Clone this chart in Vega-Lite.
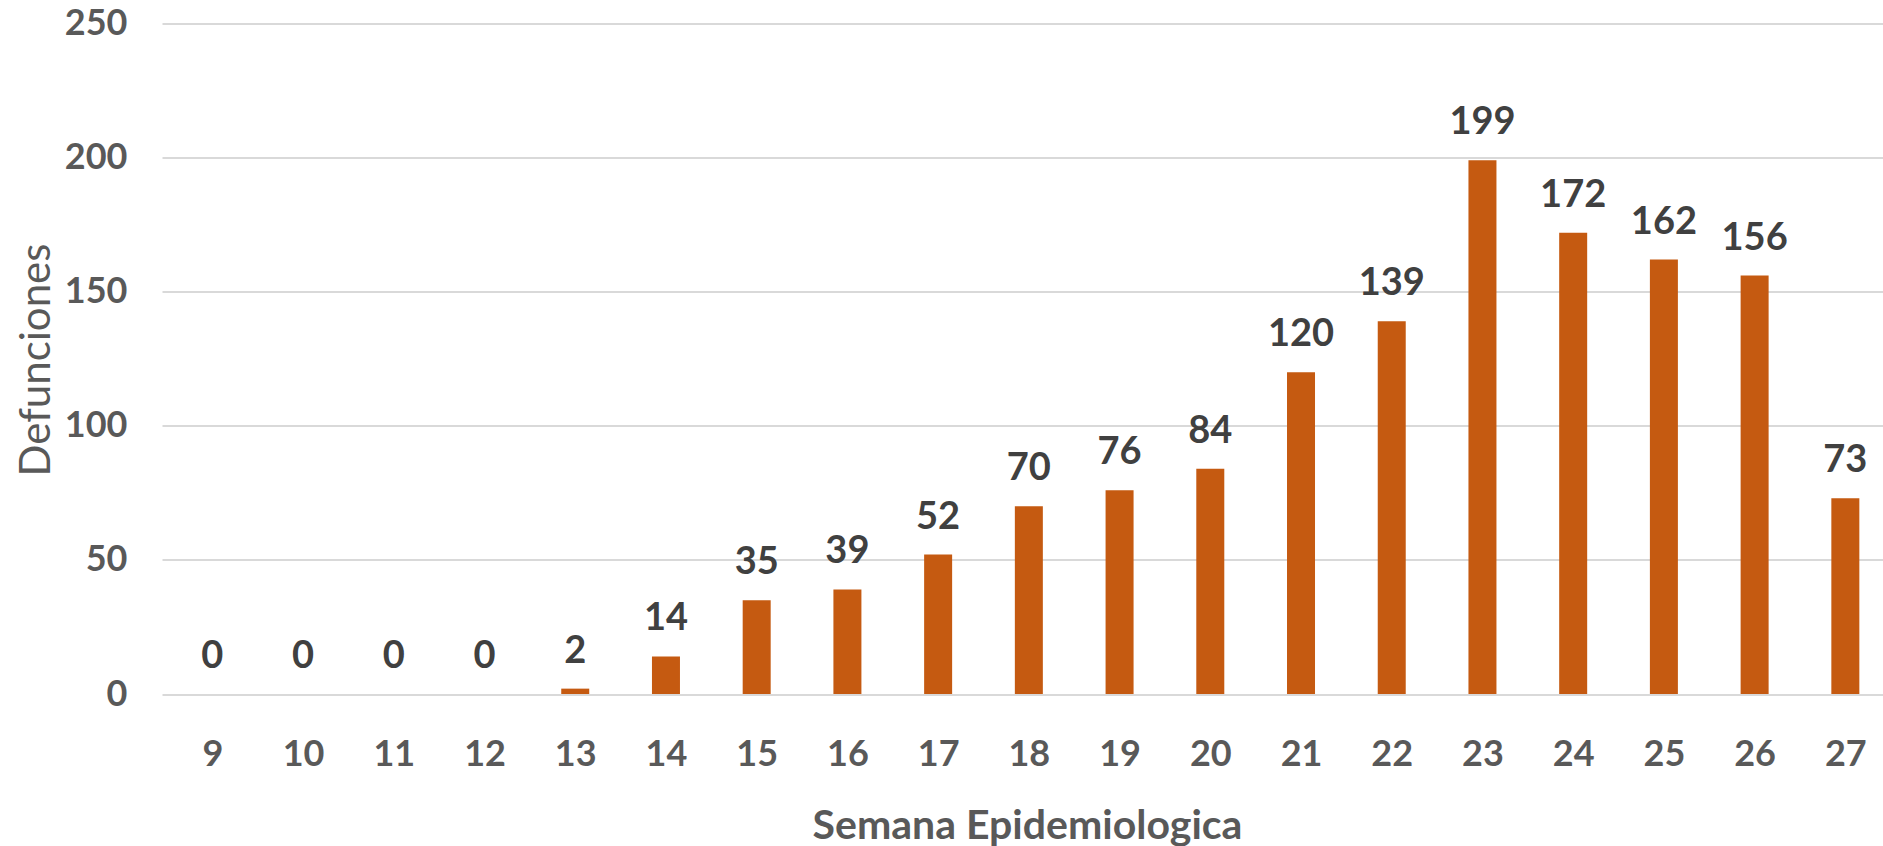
{
  "$schema": "https://vega.github.io/schema/vega-lite/v6.json",
  "autosize": "none",
  "width": 1721,
  "height": 670.5,
  "padding": {"left": 162, "top": 23.5, "right": 0, "bottom": 152},
  "background": "white",
  "config": {"view": {"stroke": null}, "font": "Lato"},
  "data": {"values": [
    {"semana": 9, "defunciones": 0},
    {"semana": 10, "defunciones": 0},
    {"semana": 11, "defunciones": 0},
    {"semana": 12, "defunciones": 0},
    {"semana": 13, "defunciones": 2},
    {"semana": 14, "defunciones": 14},
    {"semana": 15, "defunciones": 35},
    {"semana": 16, "defunciones": 39},
    {"semana": 17, "defunciones": 52},
    {"semana": 18, "defunciones": 70},
    {"semana": 19, "defunciones": 76},
    {"semana": 20, "defunciones": 84},
    {"semana": 21, "defunciones": 120},
    {"semana": 22, "defunciones": 139},
    {"semana": 23, "defunciones": 199},
    {"semana": 24, "defunciones": 172},
    {"semana": 25, "defunciones": 162},
    {"semana": 26, "defunciones": 156},
    {"semana": 27, "defunciones": 73}
  ]},
  "encoding": {
    "x": {
      "field": "semana", "type": "quantitative",
      "scale": {"domain": [8.5, 27.36], "nice": false, "zero": false},
      "axis": {
        "values": [9,10,11,12,13,14,15,16,17,18,19,20,21,22,23,24,25,26,27],
        "format": "d", "grid": false, "domain": false, "ticks": false,
        "labelFont": "Lato", "labelFontWeight": "bold", "labelFontSize": 36,
        "labelColor": "#595959", "labelPadding": 43, "labelFlush": false,
        "labelOverlap": false,
        "title": "Semana Epidemiologica",
        "titleFont": "Lato", "titleFontWeight": "bold", "titleFontSize": 41,
        "titleColor": "#595959", "titleX": 865, "titleY": 132,
        "titleBaseline": "middle", "titleAlign": "center"
      }
    },
    "y": {
      "field": "defunciones", "type": "quantitative",
      "scale": {"domain": [0, 250], "nice": false},
      "axis": {
        "values": [0, 50, 100, 150, 200, 250],
        "grid": true, "gridColor": "#D9D9D9", "gridWidth": 2,
        "domain": false, "ticks": false,
        "labelFont": "Lato", "labelFontWeight": "bold", "labelFontSize": 36,
        "labelColor": "#595959", "labelPadding": 35,
        "title": "Defunciones",
        "titleFont": "Lato", "titleFontWeight": "normal", "titleFontSize": 42,
        "titleColor": "#595959", "titleX": -126, "titleY": 336,
        "titleBaseline": "middle", "titleAlign": "center", "titleAngle": -90
      }
    }
  },
  "layer": [
    {"mark": {"type": "bar", "size": 28, "color": "#C55A11"}},
    {
      "mark": {"type": "text", "baseline": "alphabetic", "dy": -26,
               "font": "Lato", "fontWeight": "bold", "fontSize": 38, "color": "#404040"},
      "encoding": {"text": {"field": "defunciones", "type": "quantitative"}}
    }
  ]
}
